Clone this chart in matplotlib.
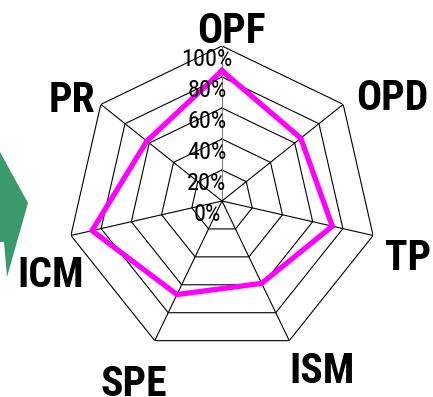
import numpy as np
import matplotlib.pyplot as plt
from matplotlib.patches import Polygon

# dados do radar
categorias = ['OPF', 'OPD', 'TP', 'ISM', 'SPE', 'ICM', 'PR']
valores = [84, 65, 73, 59, 67, 86, 62]
niveis = [0, 20, 40, 60, 80, 100]

W, H = 433, 397
fig = plt.figure(figsize=(W / 100, H / 100), dpi=100)

# centro (222, 201) px, raio 155 px
cx, cy, R = 222, 201, 155
ax = fig.add_axes([(cx - R) / W, (H - cy - R) / H, 2 * R / W, 2 * R / H], projection='polar')
ax.set_theta_offset(np.pi / 2)
ax.set_theta_direction(-1)
ax.set_ylim(0, 100)
ax.axis('off')

n = len(categorias)
ang = np.linspace(0, 2 * np.pi, n, endpoint=False)
ang_fech = np.append(ang, ang[0])

# grade heptagonal
for nv in niveis[1:]:
    ax.plot(ang_fech, [nv] * (n + 1), color='black', lw=0.8, zorder=1)
for i, a in enumerate(ang):
    ax.plot([a, a], [0, 100], color='gray' if i == 0 else 'black', lw=0.8, zorder=1)

# série
vals = valores + valores[:1]
ax.plot(ang_fech, vals, color='#ff00ff', lw=3.8, solid_joinstyle='miter', zorder=3)

fonte = ['Roboto Condensed', 'DejaVu Sans']

# rótulos da escala
for nv in niveis:
    ax.annotate(f'{nv}%', xy=(0, nv), xytext=(-15, -20), textcoords='offset pixels',
                ha='center', va='baseline', fontsize=17.5, family=fonte, zorder=5)

# rótulos das categorias (posição em pixels)
pos_rotulos = {'OPF': (231, 43), 'OPD': (392, 110), 'TP': (408, 270), 'ISM': (322, 383),
               'SPE': (134, 396), 'ICM': (51, 287), 'PR': (72, 112)}
for c in categorias:
    x, y = pos_rotulos[c]
    fig.text(x / W, 1 - y / H, c, ha='center', va='baseline', fontsize=30,
             fontweight='bold', family=fonte)

# seta verde à esquerda
seta = Polygon([(0 / W, 1 - 152 / H), (28 / W, 1 - 203 / H), (7 / W, 1 - 277 / H),
                (4 / W, 1 - 242 / H), (0 / W, 1 - 242 / H)],
               closed=True, transform=fig.transFigure, color='#3a9a6c', lw=0)
fig.add_artist(seta)

plt.savefig('out.png', dpi=100)
